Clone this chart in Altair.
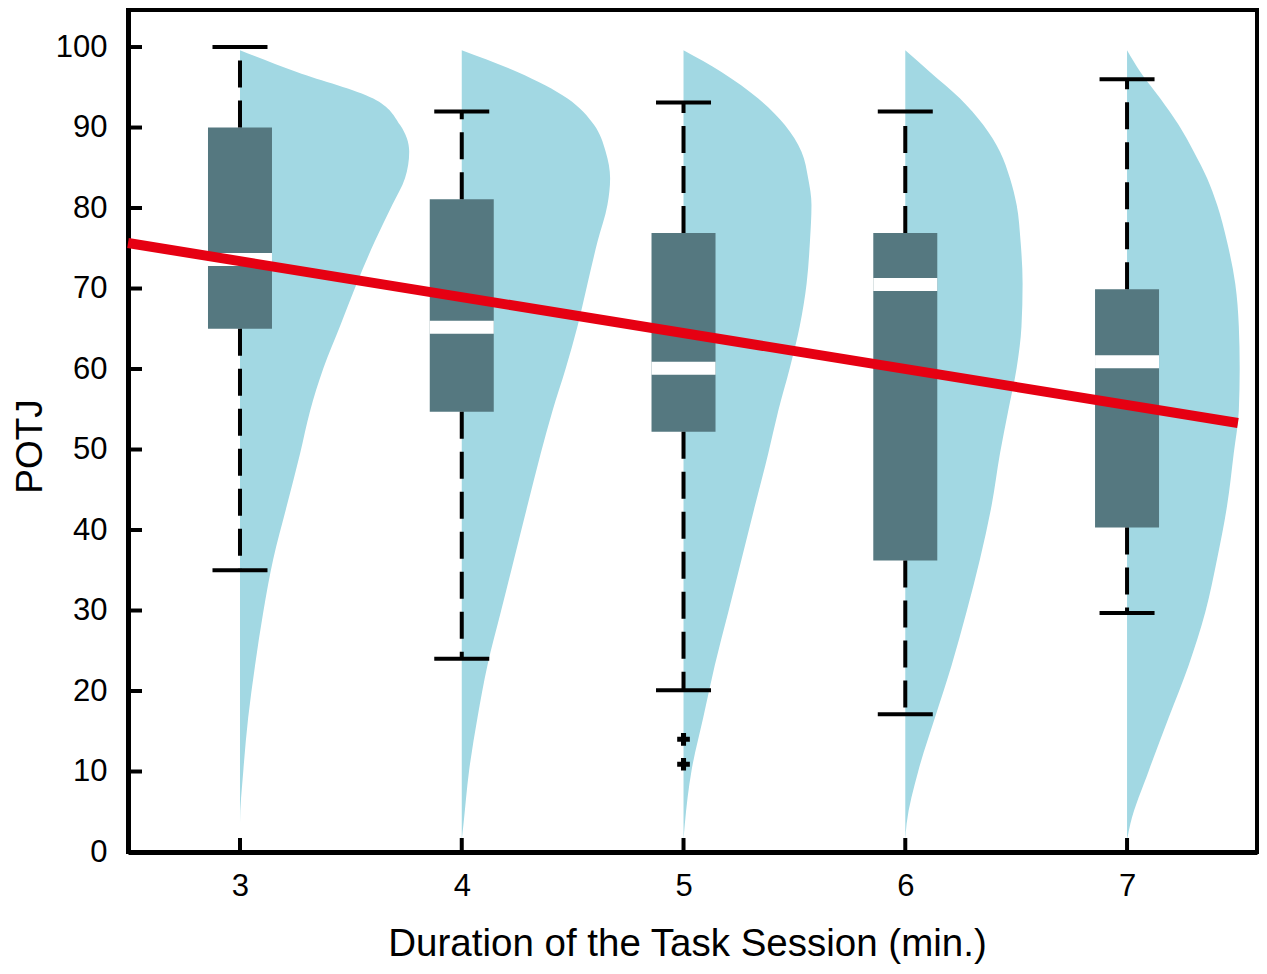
import altair as alt
import pandas as pd

# ---- data ----
durations = [3, 4, 5, 6, 7]
q1 = [65.0, 54.7, 52.2, 36.2, 40.3]
median = [73.6, 65.2, 60.1, 70.5, 60.9]
q3 = [90.0, 81.1, 76.9, 76.9, 69.9]
whisker_lo = [35.0, 24.0, 20.1, 17.1, 29.7]
whisker_hi = [100.0, 92.0, 93.1, 92.0, 96.0]

outlier_dur = [5, 5]
outlier_val = [14.0, 10.9]

# half-violin outline: POTJ level and width (in x units) for each duration
violin_levels = [99.6, 96.9, 93.6, 90.3, 87.0, 83.7, 80.4, 75.8, 70.6, 65.3,
                 60.1, 54.8, 49.5, 43.0, 36.4, 29.8, 23.2, 16.7, 10.1, 3.5, 1.5]
violin_w3 = [0, 0.256, 0.601, 0.722, 0.763, 0.744, 0.687, 0.607, 0.526, 0.451,
             0.376, 0.316, 0.271, 0.211, 0.150, 0.105, 0.068, 0.037, 0.015, 0.0, 0]
violin_w4 = [0, 0.251, 0.477, 0.597, 0.649, 0.669, 0.657, 0.612, 0.567, 0.522,
             0.469, 0.409, 0.356, 0.296, 0.236, 0.176, 0.116, 0.071, 0.033, 0.008, 0]
violin_w5 = [0, 0.171, 0.337, 0.457, 0.532, 0.562, 0.577, 0.570, 0.555, 0.524,
             0.479, 0.427, 0.382, 0.322, 0.262, 0.202, 0.141, 0.089, 0.036, 0.006, 0]
violin_w6 = [0, 0.111, 0.247, 0.352, 0.427, 0.472, 0.502, 0.520, 0.529, 0.524,
             0.502, 0.464, 0.427, 0.389, 0.337, 0.276, 0.209, 0.134, 0.059, 0.006, 0]
violin_w7 = [0, 0.060, 0.150, 0.233, 0.301, 0.361, 0.406, 0.451, 0.488, 0.504,
             0.508, 0.504, 0.481, 0.451, 0.406, 0.353, 0.278, 0.188, 0.098, 0.015, 0]

trend_x = [2.495, 7.5]
trend_y = [75.65, 53.3]

x_ticks = [3, 4, 5, 6, 7]
y_ticks = [0, 10, 20, 30, 40, 50, 60, 70, 80, 90, 100]

# ---- tables ----
widths = [violin_w3, violin_w4, violin_w5, violin_w6, violin_w7]
vrows = []
for d, ws in zip(durations, widths):
    for lv, w in zip(violin_levels, ws):
        vrows.append({"dur": d, "level": lv, "w": w})
vdf = pd.DataFrame(vrows)

bdf = pd.DataFrame({"dur": durations, "q1": q1, "med": median, "q3": q3,
                    "lo": whisker_lo, "hi": whisker_hi})
odf = pd.DataFrame({"dur": outlier_dur, "val": outlier_val})
tdf = pd.DataFrame({"dur": trend_x, "val": trend_y})
xtdf = pd.DataFrame({"v": x_ticks})
ytdf = pd.DataFrame({"v": y_ticks})

FONT = "Liberation Sans"
W, H = 1129, 842

xscale = alt.Scale(domain=[2.495, 7.586], nice=False, zero=False, padding=0)
yscale = alt.Scale(domain=[0, 104.6], nice=False, zero=False, padding=0)

xaxis = alt.Axis(values=x_ticks, format="d", grid=False, ticks=False, tickSize=0,
                 domain=True, domainColor="black", domainWidth=5,
                 labelFont=FONT, labelFontSize=31, labelColor="black",
                 labelPadding=19, labelFlush=False,
                 title="Duration of the Task Session (min.)",
                 titleFont=FONT, titleFontSize=38.5, titleFontWeight="normal",
                 titleColor="black", titleX=559, titleY=103,
                 titleBaseline="alphabetic", titleAlign="center")
yaxis = alt.Axis(values=y_ticks, format="d", grid=False, ticks=False, tickSize=0,
                 domain=True, domainColor="black", domainWidth=5,
                 labelFont=FONT, labelFontSize=31, labelColor="black",
                 labelPadding=21, labelFlush=False,
                 title="POTJ",
                 titleFont=FONT, titleFontSize=37, titleFontWeight="normal",
                 titleColor="black", titleAngle=270, titleX=-87, titleY=436,
                 titleBaseline="alphabetic", titleAlign="center")


def X(field, **kw):
    return alt.X(field, type="quantitative", scale=xscale, axis=xaxis, **kw)


def Y(field, **kw):
    return alt.Y(field, type="quantitative", scale=yscale, axis=yaxis, **kw)


violins = []
for d in durations:
    v = alt.Chart(vdf).transform_filter(
        alt.datum.dur == d
    ).transform_calculate(
        xright="datum.dur + datum.w"
    ).mark_area(orient="horizontal", interpolate="monotone", color="#a2d8e3",
                opacity=1).encode(
        y=Y("level"),
        x=X("xright"),
        x2=alt.X2("dur"),
    )
    violins.append(v)

box = alt.Chart(bdf).mark_bar(size=64, color="#557880", opacity=1).encode(
    x=X("dur"), y=Y("q1"), y2="q3:Q"
)

whisk_hi = alt.Chart(bdf).mark_rule(color="black", strokeWidth=4,
                                    strokeDash=[27, 13]).encode(
    x=X("dur"), y=Y("q3"), y2="hi:Q"
)
whisk_lo = alt.Chart(bdf).mark_rule(color="black", strokeWidth=4,
                                    strokeDash=[27, 13]).encode(
    x=X("dur"), y=Y("q1"), y2="lo:Q"
)

cap_hi = alt.Chart(bdf).mark_tick(orient="horizontal", size=55, thickness=4,
                                  color="black", opacity=1).encode(
    x=X("dur"), y=Y("hi")
)
cap_lo = alt.Chart(bdf).mark_tick(orient="horizontal", size=55, thickness=4,
                                  color="black", opacity=1).encode(
    x=X("dur"), y=Y("lo")
)

med = alt.Chart(bdf).mark_tick(orient="horizontal", size=64, thickness=13,
                               color="white", opacity=1).encode(
    x=X("dur"), y=Y("med")
)

outl = alt.Chart(odf).mark_point(shape="cross", filled=True, size=160,
                                 color="black", opacity=1).encode(
    x=X("dur"), y=Y("val")
)

trend = alt.Chart(tdf).mark_line(color="#e60012", strokeWidth=10,
                                 strokeCap="butt").encode(
    x=X("dur"), y=Y("val")
)

yt = alt.Chart(ytdf).mark_tick(orient="horizontal", size=14, thickness=4,
                               color="black", opacity=1).encode(
    y=Y("v"), x=alt.value(7)
)
xt = alt.Chart(xtdf).mark_tick(orient="vertical", size=14, thickness=4,
                               color="black", opacity=1).encode(
    x=X("v"), y=alt.value(H - 7)
)

chart = alt.layer(
    *violins, box, whisk_hi, whisk_lo, cap_hi, cap_lo, med, outl, trend, yt, xt
).properties(
    width=W, height=H,
    autosize=alt.AutoSizeParams(type="none"),
    padding={"left": 120, "top": 2, "right": 2, "bottom": 112},
    background="white",
).configure_view(stroke="black", strokeWidth=4)

chart.save("out.html", embed_options={"renderer": "svg", "actions": False})
